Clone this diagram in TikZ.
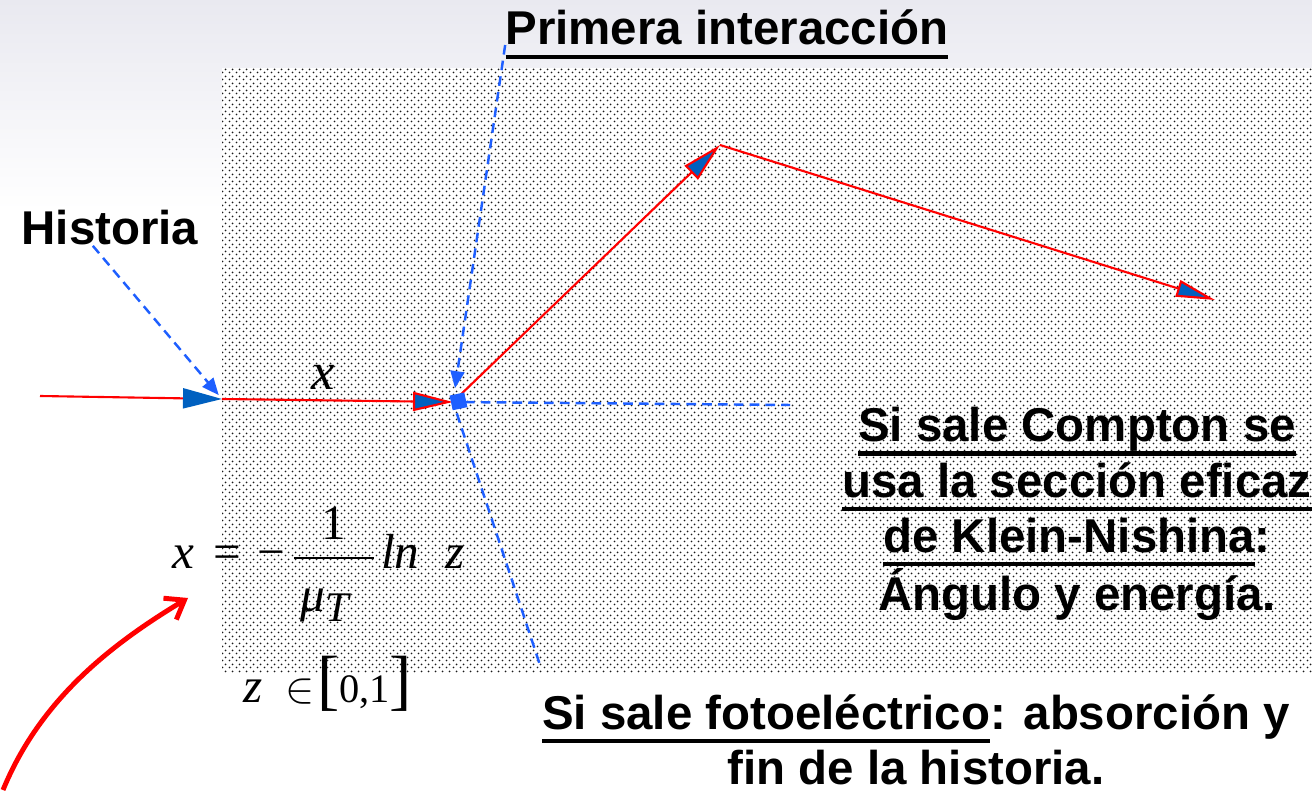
\documentclass[tikz,border=0pt]{standalone}
\usepackage{amsmath}
\usepackage{fontspec}
\setmainfont{Liberation Sans}
\newfontfamily\tmfont{Liberation Serif}
\usepackage{tikz}
\usetikzlibrary{arrows.meta,patterns.meta}

\definecolor{rayred}{RGB}{255,0,0}
\definecolor{tipblue}{RGB}{0,96,192}
\definecolor{dashblue}{RGB}{30,95,255}
\definecolor{topgray}{RGB}{233,233,240}

\tikzdeclarepattern{
	name=slidedots,
	type=uncolored,
	bounding box={(0pt,0pt) and (3.7pt,3.7pt)},
	tile size={(3.7pt,3.7pt)},
	code={
		\pgfpathcircle{\pgfqpoint{0.925pt}{0.925pt}}{0.6pt}
		\pgfpathcircle{\pgfqpoint{2.775pt}{2.775pt}}{0.6pt}
		\pgfusepath{fill}
	}
}

\newsavebox{\ulbox}
\newcommand{\uln}[1]{\leavevmode\sbox{\ulbox}{#1}\rlap{\rule[-8pt]{\wd\ulbox}{2.5pt}}\usebox{\ulbox}}
\newcommand{\fmi}[1]{\mbox{\tmfont\itshape\fontsize{28}{30}\selectfont #1}}
\newcommand{\fmr}[1]{\mbox{\tmfont\fontsize{28}{30}\selectfont #1}}
\newcommand{\fms}[1]{\mbox{\tmfont\itshape\fontsize{24}{26}\selectfont #1}}
\newcommand{\fmd}[1]{\mbox{\tmfont\fontsize{23}{25}\selectfont #1}}
\newcommand{\fmb}[1]{\mbox{\tmfont\fontsize{38}{38}\selectfont #1}}

\begin{document}
\begin{tikzpicture}[x=0.02cm,y=-0.02cm,
		ray/.style={draw=rayred,line width=1.2pt},
		raytip/.style={-{Triangle[length=0.8cm,width=0.38cm,fill=tipblue]}},
		hint/.style={draw=dashblue,line width=1.4pt,dash pattern=on 5.5pt off 3.5pt},
		hinttip/.style={-{Triangle[length=0.34cm,width=0.28cm,fill=dashblue]}},
		bigtext/.style={font=\bfseries\fontsize{27}{31.5}\selectfont,inner sep=0pt},
		mathtext/.style={anchor=base west,inner sep=0pt,font=\fontsize{28}{30}\selectfont}]
			\useasboundingbox (0,0) rectangle (1312,793);
			\fill[white] (0,0) rectangle (1312,793);
			\shade[top color=topgray,bottom color=white] (0,0) rectangle (1312,210);
			\fill[white] (222,68) rectangle (1312,672);
			\fill[pattern=slidedots,pattern color=black!90] (222,68) rectangle (1312,672);
			
			\coordinate (src) at (40,396);
			\coordinate (entry) at (222,399);
			\coordinate (hit) at (453,402);
			\coordinate (turn) at (720,145);
			\coordinate (exit) at (1215,300);
			\coordinate (scatend) at (790,405);
			\coordinate (absend) at (540,665);
			\coordinate (curvestart) at (3,790);
			\coordinate (curvetip) at (188,598);
			
			\node[bigtext,anchor=base] (historia) at (110,245) {Historia};
			\node[bigtext,anchor=base] (primera) at (727,45) {\uln{Primera interacción}};
			\node[bigtext,anchor=north,align=center] (compton) at (1077,407)
				{\uln{Si sale Compton se}\\\uln{usa la sección eficaz}\\\uln{de Klein-Nishina}:\\Ángulo y energía.};
			\node[bigtext,anchor=north,align=center] (foto) at (916,694)
				{\uln{Si sale fotoeléctrico}: absorción y\\fin de la historia.};
			
			\node[anchor=base,inner sep=0pt,font=\tmfont\itshape\fontsize{30}{30}\selectfont] (xlab) at (323,390) {x};
			\node[mathtext] (formula) at (172,569)
				{$\fmi{x}\kern11pt\fmr{=}\kern9pt\fmr{−}\kern4pt\dfrac{\fmr{1}}{\raisebox{-7pt}{\kern4pt\fmi{μ}\raisebox{-6pt}{\fms{T}}\kern14pt}}\kern3pt\fmi{ln\kern15pt z}$};
			\node[mathtext] (zrange) at (243,702)
				{$\fmi{z}\kern13pt\mathord{\mbox{\fontsize{26}{26}\selectfont$\in$}}\kern1.5pt\fmb{[}\fmd{0,1}\fmb{]}$};
			
			\draw[ray,-{Triangle[length=0.78cm,width=0.4cm,color=tipblue]}] (src) -- (entry);
			\draw[ray,raytip] (entry) -- (hit);
			\draw[ray,raytip] (hit) -- (turn);
			\draw[ray,-{Triangle[length=0.78cm,width=0.34cm,fill=tipblue]}] (turn) -- (exit);
			
			\draw[hint,hinttip,shorten >=0.1cm] (historia.226) -- (entry);
			\draw[hint,hinttip,shorten >=0.28cm] (primera.base west) -- (hit);
			\draw[hint,shorten <=0.24cm] (hit) -- (scatend);
			\draw[hint,shorten <=0.24cm] (hit) -- (absend);
			\fill[dashblue,rotate around={12:(hit)}] ([shift={(-2,-7)}]hit) rectangle ([shift={(13,8)}]hit);
			
			\draw[draw=rayred,line width=2.8pt,-{Straight Barb[length=0.34cm,width=0.5cm]}]
				(curvestart) .. controls (40,700) and (110,645) .. (curvetip);
		\end{tikzpicture}
\end{document}
